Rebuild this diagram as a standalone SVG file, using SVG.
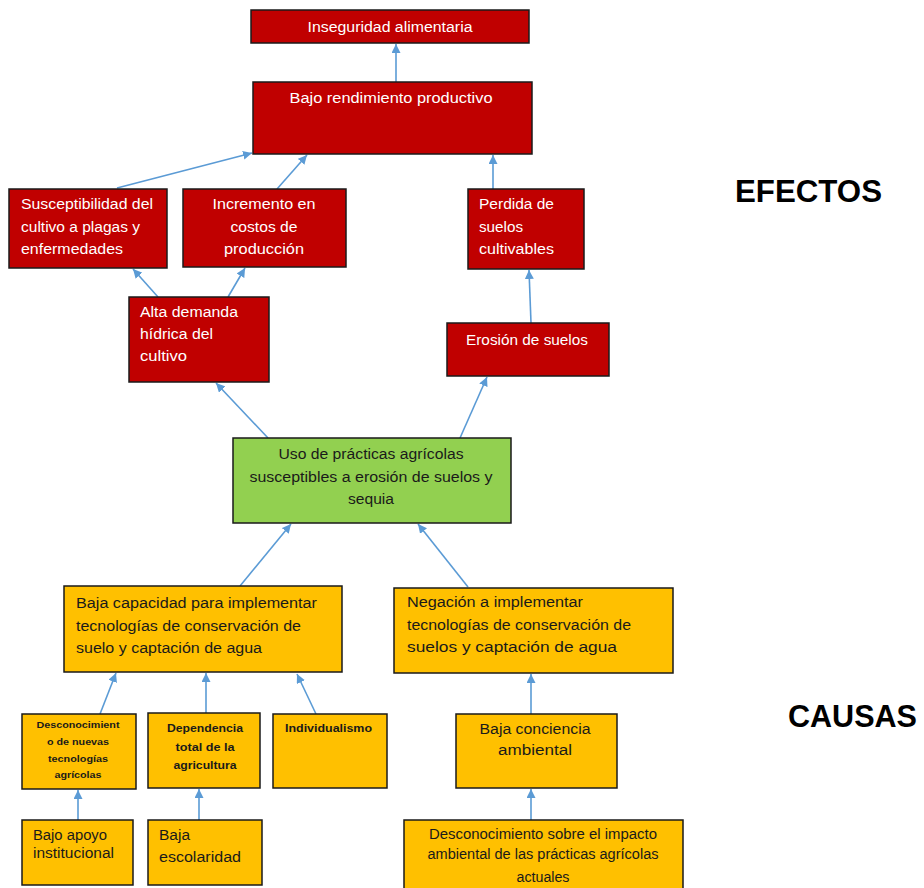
<svg xmlns="http://www.w3.org/2000/svg" width="924" height="888" viewBox="0 0 924 888">
<style>
.red{fill:#C00000;stroke:#1a1a1a;stroke-width:1.5}
.org{fill:#FFC000;stroke:#1a1a1a;stroke-width:1.5}
.grn{fill:#92D050;stroke:#1a1a1a;stroke-width:1.5}
.tw{fill:#ffffff;font-family:"Liberation Sans",Arial,sans-serif;font-size:14px}
.tk{fill:#1a1a1a;font-family:"Liberation Sans",Arial,sans-serif;font-size:14px}
.tb{fill:#1a1a1a;font-family:"Liberation Sans",Arial,sans-serif;font-weight:bold}
.c{text-anchor:middle}
.hd{fill:#000;font-family:"Liberation Sans",Arial,sans-serif;font-weight:bold;font-size:31px}
.cn line{stroke:#5B9BD5;stroke-width:1.6;marker-end:url(#ah)}
</style>
<defs>
<marker id="ah" markerUnits="userSpaceOnUse" markerWidth="10" markerHeight="9" refX="9" refY="4.5" orient="auto">
<path d="M0,0 L9,4.5 L0,9 z" fill="#5B9BD5"/>
</marker>
</defs>
<g id="connectors" class="cn">
<line x1="396" y1="82" x2="396" y2="44"/>
<line x1="117" y1="188" x2="252" y2="153"/>
<line x1="277" y1="189" x2="307" y2="155"/>
<line x1="493" y1="189" x2="493" y2="155"/>
<line x1="158" y1="297" x2="133" y2="269"/>
<line x1="228" y1="297" x2="245" y2="268"/>
<line x1="531" y1="323" x2="529" y2="270"/>
<line x1="268" y1="438" x2="216" y2="383"/>
<line x1="460" y1="438" x2="487" y2="377"/>
<line x1="240" y1="586" x2="291" y2="524"/>
<line x1="468" y1="587" x2="418" y2="524"/>
<line x1="100" y1="714" x2="116" y2="673"/>
<line x1="206" y1="713" x2="206" y2="673"/>
<line x1="316" y1="714" x2="297" y2="674"/>
<line x1="531" y1="714" x2="531" y2="674"/>
<line x1="78" y1="820" x2="78" y2="790"/>
<line x1="199" y1="820" x2="199" y2="789"/>
<line x1="531" y1="820" x2="531" y2="789"/>
</g>
<g id="n-inseguridad">
<rect class="red" x="251" y="10" width="278" height="33"/>
<text class="tw c" x="390" y="32" textLength="165" lengthAdjust="spacingAndGlyphs">Inseguridad alimentaria</text>
</g>
<g id="n-bajo-rendimiento">
<rect class="red" x="253" y="82" width="279" height="72"/>
<text class="tw c" x="391" y="103" textLength="203" lengthAdjust="spacingAndGlyphs">Bajo rendimiento productivo</text>
</g>
<g id="n-susceptibilidad">
<rect class="red" x="9" y="189" width="158" height="79"/>
<text class="tw" x="21" y="209" textLength="132" lengthAdjust="spacingAndGlyphs">Susceptibilidad del</text>
<text class="tw" x="21" y="232" textLength="119" lengthAdjust="spacingAndGlyphs">cultivo a plagas y</text>
<text class="tw" x="21" y="254" textLength="102" lengthAdjust="spacingAndGlyphs">enfermedades</text>
</g>
<g id="n-incremento">
<rect class="red" x="183" y="189" width="163" height="78"/>
<text class="tw c" x="264" y="209" textLength="103" lengthAdjust="spacingAndGlyphs">Incremento en</text>
<text class="tw c" x="264" y="232" textLength="67" lengthAdjust="spacingAndGlyphs">costos de</text>
<text class="tw c" x="264" y="254" textLength="80" lengthAdjust="spacingAndGlyphs">producción</text>
</g>
<g id="n-perdida">
<rect class="red" x="468" y="189" width="116" height="80"/>
<text class="tw" x="479" y="209" textLength="75" lengthAdjust="spacingAndGlyphs">Perdida de</text>
<text class="tw" x="479" y="232" textLength="44" lengthAdjust="spacingAndGlyphs">suelos</text>
<text class="tw" x="479" y="254" textLength="75" lengthAdjust="spacingAndGlyphs">cultivables</text>
</g>
<g id="n-alta-demanda">
<rect class="red" x="129" y="297" width="140" height="85"/>
<text class="tw" x="140" y="317" textLength="98" lengthAdjust="spacingAndGlyphs">Alta demanda</text>
<text class="tw" x="140" y="339" textLength="73" lengthAdjust="spacingAndGlyphs">hídrica del</text>
<text class="tw" x="140" y="361" textLength="47" lengthAdjust="spacingAndGlyphs">cultivo</text>
</g>
<g id="n-erosion">
<rect class="red" x="447" y="323" width="162" height="53"/>
<text class="tw c" x="527" y="345" textLength="122" lengthAdjust="spacingAndGlyphs">Erosión de suelos</text>
</g>
<g id="n-uso-practicas">
<rect class="grn" x="233" y="438" width="278" height="85"/>
<text class="tk c" x="371" y="459" textLength="185" lengthAdjust="spacingAndGlyphs">Uso de prácticas agrícolas</text>
<text class="tk c" x="371" y="482" textLength="243" lengthAdjust="spacingAndGlyphs">susceptibles a erosión de suelos y</text>
<text class="tk c" x="371" y="504" textLength="46" lengthAdjust="spacingAndGlyphs">sequia</text>
</g>
<g id="n-baja-capacidad">
<rect class="org" x="64" y="586" width="278" height="86"/>
<text class="tk" x="76" y="608" textLength="241" lengthAdjust="spacingAndGlyphs">Baja capacidad para implementar</text>
<text class="tk" x="76" y="631" textLength="225" lengthAdjust="spacingAndGlyphs">tecnologías de conservación de</text>
<text class="tk" x="76" y="653" textLength="186" lengthAdjust="spacingAndGlyphs">suelo y captación de agua</text>
</g>
<g id="n-negacion">
<rect class="org" x="394" y="588" width="279" height="85"/>
<text class="tk" x="407" y="607" textLength="176" lengthAdjust="spacingAndGlyphs">Negación a implementar</text>
<text class="tk" x="407" y="630" textLength="224" lengthAdjust="spacingAndGlyphs">tecnologías de conservación de</text>
<text class="tk" x="407" y="652" textLength="210" lengthAdjust="spacingAndGlyphs">suelos y captación de agua</text>
</g>
<g id="n-desconocimiento-tec">
<rect class="org" x="22" y="714" width="114" height="75"/>
<text class="tb c" font-size="9" x="78" y="728" textLength="83" lengthAdjust="spacingAndGlyphs">Desconocimient</text>
<text class="tb c" font-size="9" x="78" y="745" textLength="62" lengthAdjust="spacingAndGlyphs">o de nuevas</text>
<text class="tb c" font-size="9" x="78" y="762" textLength="60" lengthAdjust="spacingAndGlyphs">tecnologías</text>
<text class="tb c" font-size="9" x="78" y="778" textLength="47" lengthAdjust="spacingAndGlyphs">agrícolas</text>
</g>
<g id="n-dependencia">
<rect class="org" x="148" y="713" width="112" height="75"/>
<text class="tb c" font-size="11" x="205" y="732" textLength="76" lengthAdjust="spacingAndGlyphs">Dependencia</text>
<text class="tb c" font-size="11" x="205" y="751" textLength="59" lengthAdjust="spacingAndGlyphs">total de la</text>
<text class="tb c" font-size="11" x="205" y="769" textLength="63" lengthAdjust="spacingAndGlyphs">agricultura</text>
</g>
<g id="n-individualismo">
<rect class="org" x="273" y="714" width="114" height="74"/>
<text class="tb" font-size="11" x="285" y="732" textLength="87" lengthAdjust="spacingAndGlyphs">Individualismo</text>
</g>
<g id="n-baja-conciencia">
<rect class="org" x="456" y="714" width="161" height="74"/>
<text class="tk c" x="535" y="734" textLength="111" lengthAdjust="spacingAndGlyphs">Baja conciencia</text>
<text class="tk c" x="535" y="755" textLength="74" lengthAdjust="spacingAndGlyphs">ambiental</text>
</g>
<g id="n-bajo-apoyo">
<rect class="org" x="22" y="820" width="111" height="65"/>
<text class="tk" x="33" y="840" textLength="74" lengthAdjust="spacingAndGlyphs">Bajo apoyo</text>
<text class="tk" x="33" y="858" textLength="81" lengthAdjust="spacingAndGlyphs">institucional</text>
</g>
<g id="n-baja-escolaridad">
<rect class="org" x="148" y="820" width="114" height="65"/>
<text class="tk" font-size="16" x="159" y="840" textLength="31" lengthAdjust="spacingAndGlyphs">Baja</text>
<text class="tk" font-size="16" x="159" y="862" textLength="82" lengthAdjust="spacingAndGlyphs">escolaridad</text>
</g>
<g id="n-desconocimiento-impacto">
<rect class="org" x="404" y="820" width="279" height="72"/>
<text class="tk c" x="543" y="839" textLength="228" lengthAdjust="spacingAndGlyphs">Desconocimiento sobre el impacto</text>
<text class="tk c" x="543" y="859" textLength="231" lengthAdjust="spacingAndGlyphs">ambiental de las prácticas agrícolas</text>
<text class="tk c" x="543" y="882" textLength="53" lengthAdjust="spacingAndGlyphs">actuales</text>
</g>
<g id="labels">
<text class="hd" x="735" y="202" textLength="147" lengthAdjust="spacingAndGlyphs">EFECTOS</text>
<text class="hd" x="788" y="727" textLength="129" lengthAdjust="spacingAndGlyphs">CAUSAS</text>
</g>
</svg>
